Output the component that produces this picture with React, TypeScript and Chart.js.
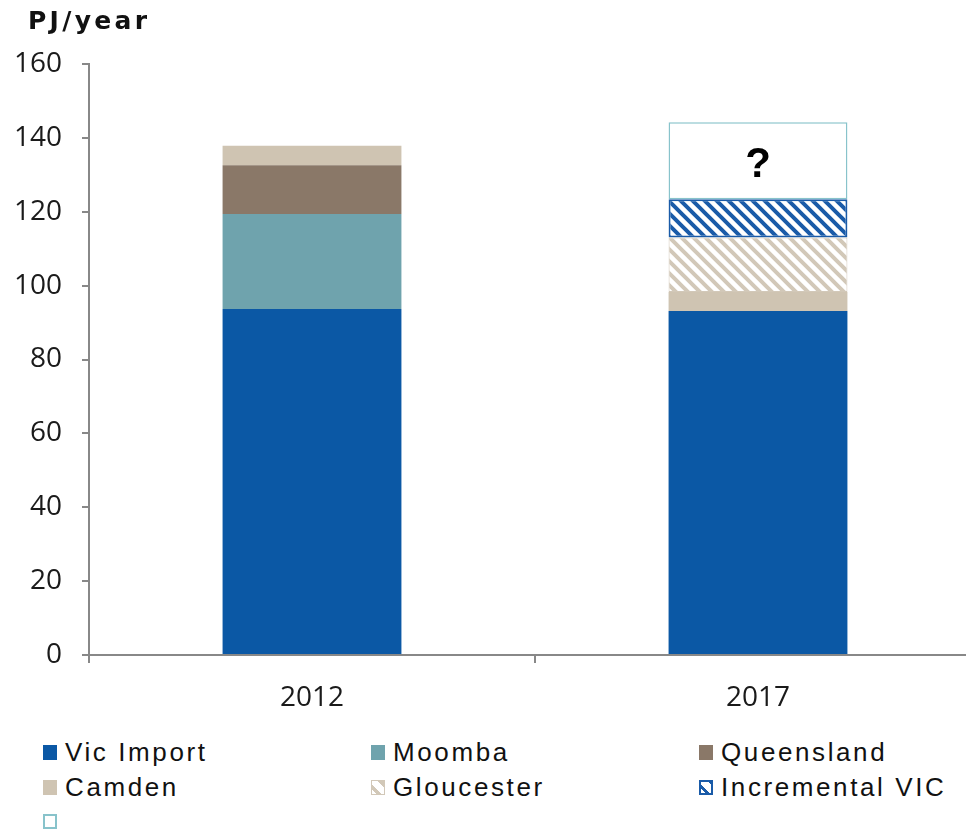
import React, { useEffect, useRef } from "react";
import { Chart, registerables } from "chart.js";
Chart.register(...registerables);

// ---- data ----
const categories = ["2012", "2017"];
const seriesNames = ["Vic Import", "Moomba", "Queensland", "Camden", "Gloucester", "Incremental VIC", ""];
const vicImport = [93.7, 93.1];
const moomba = [25.7, null];
const queensland = [13.2, null];
const camden = [5.3, 5.2];
const gloucester = [null, 14.7];
const incrementalVic = [null, 10.4];
const unknownSupply = [null, 20.8];
const unknownMark = "?";
const axisTitle = "PJ/year";
const yMin = 0;
const yMax = 160;
const yStep = 20;

// ---- styles ----
const BLUE = "#0B58A5";
const TEAL = "#6FA3AD";
const BROWN = "#8A7868";
const TAN = "#CFC4B2";
const STRIPE_TAN = "#D2C8B8";
const STRIPE_BLUE = "#1A5BA8";
const LIGHT_TEAL = "#88C3CB";
const AXIS = "#888888";

function stripes(color: string, size = 12, width = 4) {
  const c = document.createElement("canvas");
  c.width = size;
  c.height = size;
  const ctx = c.getContext("2d")!;
  ctx.fillStyle = "#ffffff";
  ctx.fillRect(0, 0, size, size);
  ctx.strokeStyle = color;
  ctx.lineWidth = width;
  ctx.beginPath();
  for (const o of [-size, 0, size]) {
    ctx.moveTo(o - 2, -2);
    ctx.lineTo(o + size + 2, size + 2);
  }
  ctx.stroke();
  return ctx.createPattern(c, "repeat")!;
}

const legendSwatches: React.CSSProperties[] = [
  { background: BLUE },
  { background: TEAL },
  { background: BROWN },
  { background: TAN },
  {
    border: `1px solid ${STRIPE_TAN}`,
    background: `repeating-linear-gradient(45deg, #fff 0px, #fff 3px, ${STRIPE_TAN} 3px, ${STRIPE_TAN} 7px, #fff 7px, #fff 10px)`,
  },
  {
    border: `2px solid ${STRIPE_BLUE}`,
    background: `repeating-linear-gradient(45deg, #fff 0px, #fff 3px, ${STRIPE_BLUE} 3px, ${STRIPE_BLUE} 6px, #fff 6px, #fff 10px)`,
  },
  { border: `2px solid ${LIGHT_TEAL}`, background: "#fff" },
];

export default function App() {
  const ref = useRef<HTMLCanvasElement | null>(null);

  useEffect(() => {
    document.body.style.margin = "0";
    document.body.style.overflow = "hidden";
    const canvas = ref.current!;
    const markPlugin = {
      id: "markPlugin",
      afterDatasetsDraw(chart: any) {
        const meta = chart.getDatasetMeta(6);
        const el = meta.data[1];
        if (!el) return;
        const p = el.getProps(["x", "y", "base"], true);
        const ctx = chart.ctx;
        ctx.save();
        ctx.fillStyle = "#000";
        ctx.font = "bold 42px 'Liberation Sans', Arial, sans-serif";
        ctx.textAlign = "center";
        ctx.textBaseline = "middle";
        ctx.fillText(unknownMark, p.x, (p.y + p.base) / 2 + 5);
        ctx.restore();
      },
    };

    const chart = new Chart(canvas, {
      type: "bar",
      data: {
        labels: categories,
        datasets: [
          { label: seriesNames[0], data: vicImport, backgroundColor: BLUE, borderWidth: 0 },
          { label: seriesNames[1], data: moomba, backgroundColor: TEAL, borderWidth: 0 },
          { label: seriesNames[2], data: queensland, backgroundColor: BROWN, borderWidth: 0 },
          { label: seriesNames[3], data: camden, backgroundColor: TAN, borderWidth: 0 },
          {
            label: seriesNames[4],
            data: gloucester,
            backgroundColor: stripes(STRIPE_TAN),
            borderColor: STRIPE_TAN,
            borderWidth: 1,
            borderSkipped: false,
          },
          {
            label: seriesNames[5],
            data: incrementalVic,
            backgroundColor: stripes(STRIPE_BLUE),
            borderColor: STRIPE_BLUE,
            borderWidth: 2,
            borderSkipped: false,
          },
          {
            label: seriesNames[6],
            data: unknownSupply,
            backgroundColor: "#ffffff",
            borderColor: LIGHT_TEAL,
            borderWidth: 1.5,
            borderSkipped: false,
          },
        ] as any,
      },
      options: {
        animation: false,
        responsive: false,
        events: [],
        layout: { padding: { left: 0, right: 19, top: 64, bottom: 0 } },
        datasets: { bar: { categoryPercentage: 1, barPercentage: 0.401 } },
        plugins: { legend: { display: false }, tooltip: { enabled: false }, title: { display: false } },
        scales: {
          x: {
            stacked: true,
            grid: { offset: true, drawOnChartArea: false, drawTicks: true, tickLength: 8, color: AXIS, lineWidth: 2 },
            border: { display: true, color: AXIS, width: 2 },
            ticks: {
              color: "#1a1a1a",
              padding: 18,
              font: { family: "'Open Sans', sans-serif", size: 28 },
            },
            afterFit(scale: any) {
              scale.height = 75;
            },
          },
          y: {
            stacked: true,
            min: yMin,
            max: yMax,
            grid: { drawOnChartArea: false, drawTicks: true, tickLength: 7, color: AXIS, lineWidth: 2 },
            border: { display: true, color: AXIS, width: 2 },
            ticks: {
              stepSize: yStep,
              color: "#1a1a1a",
              padding: 20,
              font: { family: "'Open Sans', sans-serif", size: 28 },
            },
            afterFit(scale: any) {
              scale.width = 89;
            },
          },
        },
      },
      plugins: [markPlugin],
    });
    return () => chart.destroy();
  }, []);

  return (
    <div style={{ position: "fixed", left: 0, top: 0, width: 966, height: 832, overflow: "hidden", background: "#fff" }}>
      <canvas ref={ref} width={1000} height={730} style={{ position: "absolute", left: 0, top: 0, width: 1000, height: 730 }} />
      <div
        style={{
          position: "absolute",
          left: 28,
          top: 9,
          font: "bold 25px 'DejaVu Sans', sans-serif",
          lineHeight: "24px",
          letterSpacing: "3.3px",
          color: "#111",
          whiteSpace: "nowrap",
        }}
      >
        {axisTitle}
      </div>
      {seriesNames.map((name, i) => {
        const col = i % 3;
        const row = Math.floor(i / 3);
        return (
          <div
            key={i}
            style={{
              position: "absolute",
              left: 43 + col * 328,
              top: 745 + row * 34.5,
              height: 15,
              display: "flex",
              alignItems: "center",
              whiteSpace: "nowrap",
            }}
          >
            <span style={{ width: 14, height: 15, boxSizing: "border-box", display: "inline-block", ...legendSwatches[i] }} />
            <span
              style={{
                marginLeft: 8,
                font: "26px 'Liberation Sans', Arial, sans-serif",
                lineHeight: "15px",
                letterSpacing: "2.6px",
                color: "#111",
              }}
            >
              {name}
            </span>
          </div>
        );
      })}
    </div>
  );
}
